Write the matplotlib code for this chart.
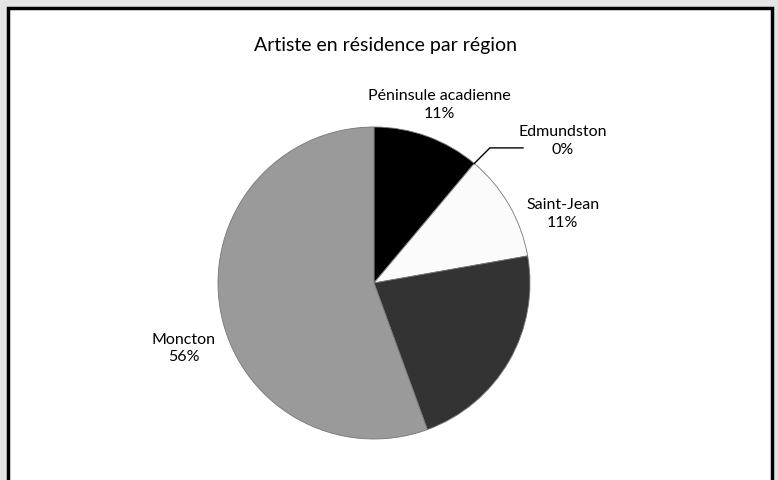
import numpy as np
import matplotlib.pyplot as plt
from matplotlib.patches import Rectangle

# -----------------------------
# Data
# -----------------------------
regions = ["Péninsule acadienne", "Edmundston", "Saint-Jean", "", "Moncton"]
counts = [1, 0, 1, 2, 5]
colors = ["#000000", "#ffffff", "#fbfbfb", "#333333", "#9a9a9a"]
title = "Artiste en résidence par région"

# label anchor positions (data units, pie radius = 1)
label_pos = {
    "Péninsule acadienne": (0.42, 1.14),
    "Edmundston": (1.21, 0.91),
    "Saint-Jean": (1.21, 0.44),
    "Moncton": (-1.22, -0.42),
}

plt.rcParams["font.family"] = ["Lato", "DejaVu Sans"]

fig = plt.figure(figsize=(7.78, 4.8), dpi=100)
fig.patch.set_facecolor("#e4e4e4")

# white panel with black frame
W, H = 778, 480
fig.patches.append(Rectangle((8 / W, -0.05), (772 - 8) / W, (480 - 8) / H + 0.05,
                             transform=fig.transFigure, facecolor="white",
                             edgecolor="black", linewidth=2.5, zorder=-5))

fig.text(385 / W, 1 - 45 / H, title, ha="center", va="center", fontsize=14)

# pie axes: centre (374, 283) px, radius 156 px
cx, cy, r = 374, 283, 156
ax = fig.add_axes([(cx - r) / W, (H - cy - r) / H, 2 * r / W, 2 * r / H])
ax.set_zorder(2)
ax.patch.set_visible(False)

total = sum(counts)
wedges, _ = ax.pie(counts, colors=colors, startangle=90, counterclock=False,
                   radius=1, wedgeprops=dict(edgecolor="#777777", linewidth=0.6))
ax.set_xlim(-1, 1)
ax.set_ylim(-1, 1)
ax.set_aspect("equal")
ax.axis("off")

ang = 90.0
for name, c in zip(regions, counts):
    frac = c / total
    mid = ang - frac * 360 / 2
    if name:
        x, y = label_pos[name]
        ax.text(x, y, f"{name}\n{round(frac * 100):.0f}%", ha="center", va="center",
                fontsize=11.5, linespacing=1.35, clip_on=False)
        if frac == 0:
            px, py = np.cos(np.radians(mid)), np.sin(np.radians(mid))
            ax.plot([px, px + 0.1, 0.955], [py, py + 0.1, py + 0.1],
                    color="black", linewidth=1, clip_on=False)
    ang -= frac * 360

fig.savefig("out.png", dpi=100, facecolor=fig.get_facecolor())
